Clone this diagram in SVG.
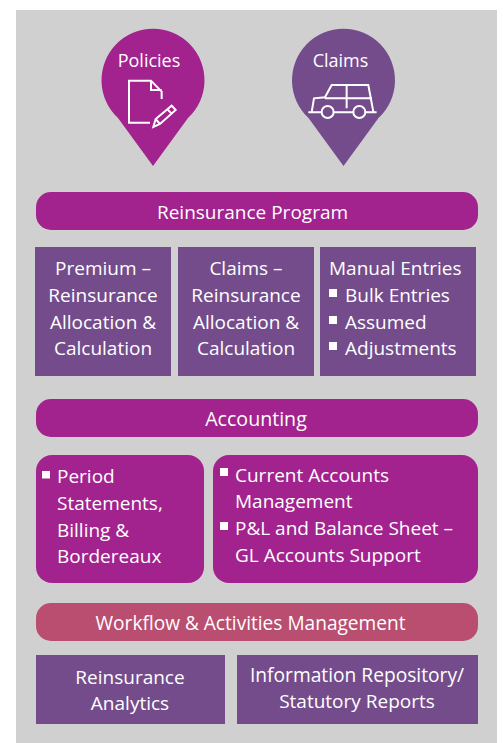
<svg xmlns="http://www.w3.org/2000/svg" width="504" height="743" viewBox="0 0 504 743">
<style>
text{font-family:"Open Sans","Noto Sans",sans-serif;font-size:19px;fill:#fff}
.m{text-anchor:middle}
.p{font-size:18px}
.mag{fill:#A2238E}
.pur{fill:#744C8C}
.bul{fill:#fff}
.ico{fill:none;stroke:#fff;stroke-width:6}
</style>
<rect width="504" height="743" fill="#fff"/>
<rect x="16" y="10" width="481" height="733" fill="#D0D0D0"/>
<g id="policies">
<path class="mag" d="M118 118A51.5 51.5 0 1 1 188 118L153 166Z"/>
<text class="m p" x="149" y="67">Policies</text>
<g class="ico" transform="translate(90 10) scale(.3333)">
<path d="M180 338H117V212H183L215 245V267M183 212V240H215"/>
<path d="M190 351L197 327L245 287L257 300L210 342ZM232 298L245 311M197 327L210 342"/>
</g>
</g>
<g id="claims">
<path class="pur" d="M308.500 118A51.500 51.500 0 1 1 378.500 118L343.500 166Z"/>
<text class="m p" x="340.500" y="67">Claims</text>
<g class="ico" transform="translate(90 10) scale(.3333)">
<path d="M655 307H695M731 307H790M826 307H860M665 307L672 265L705 262L725 225H835L850 305M770 225V295M705 265H846"/>
<circle cx="713" cy="306" r="18"/>
<circle cx="808" cy="306" r="18"/>
</g>
</g>
<g id="reinsurance-program">
<rect class="mag" x="36" y="192" width="442" height="38" rx="15"/>
<text class="m" x="252.500" y="219">Reinsurance Program</text>
</g>
<g id="premium">
<rect class="pur" x="35" y="247" width="136" height="129"/>
<text class="m" x="103" y="275">Premium –</text>
<text class="m" x="103" y="302">Reinsurance</text>
<text class="m" x="103" y="329">Allocation &amp;</text>
<text class="m" x="103" y="355">Calculation</text>
</g>
<g id="claims-calc">
<rect class="pur" x="178" y="247" width="136" height="129"/>
<text class="m" x="246" y="275">Claims –</text>
<text class="m" x="246" y="302">Reinsurance</text>
<text class="m" x="246" y="329">Allocation &amp;</text>
<text class="m" x="246" y="355">Calculation</text>
</g>
<g id="manual">
<rect class="pur" x="320" y="247" width="156" height="129"/>
<text x="329" y="275">Manual Entries</text>
<rect class="bul" x="329" y="289" width="8" height="8"/>
<text x="345" y="302">Bulk Entries</text>
<rect class="bul" x="329" y="316" width="8" height="8"/>
<text x="345" y="329">Assumed</text>
<rect class="bul" x="329" y="342" width="8" height="8"/>
<text x="345" y="355">Adjustments</text>
</g>
<g id="accounting">
<rect class="mag" x="36" y="399" width="442" height="38" rx="15"/>
<text class="m" x="256" y="426" style="font-size:19.6px">Accounting</text>
</g>
<g id="period">
<rect class="mag" x="36" y="455" width="168" height="128" rx="16"/>
<rect class="bul" x="42" y="471" width="8" height="7.500"/>
<text x="57" y="483">Period</text>
<text x="57" y="510">Statements,</text>
<text x="57" y="537">Billing &amp;</text>
<text x="57" y="563">Bordereaux</text>
</g>
<g id="current">
<rect class="mag" x="213" y="455" width="265" height="128" rx="16"/>
<rect class="bul" x="220" y="468" width="8" height="8"/>
<text x="235" y="482">Current Accounts</text>
<text x="235" y="508">Management</text>
<rect class="bul" x="220" y="522" width="8" height="8"/>
<text x="235" y="535">P&amp;L and Balance Sheet –</text>
<text x="235" y="562">GL Accounts Support</text>
</g>
<g id="workflow">
<rect x="36" y="603" width="442" height="38" rx="15" fill="#BA4E70"/>
<text class="m" x="250.500" y="630" style="font-size:19.1px">Workflow &amp; Activities Management</text>
</g>
<g id="analytics">
<rect class="pur" x="36" y="655" width="189" height="69"/>
<text class="m" x="130" y="684">Reinsurance</text>
<text class="m" x="130" y="710">Analytics</text>
</g>
<g id="repository">
<rect class="pur" x="237" y="655" width="241" height="69"/>
<text class="m" x="357" y="682" style="font-size:19.2px">Information Repository/</text>
<text class="m" x="357" y="708">Statutory Reports</text>
</g>
<g id="connectors"></g>
</svg>
